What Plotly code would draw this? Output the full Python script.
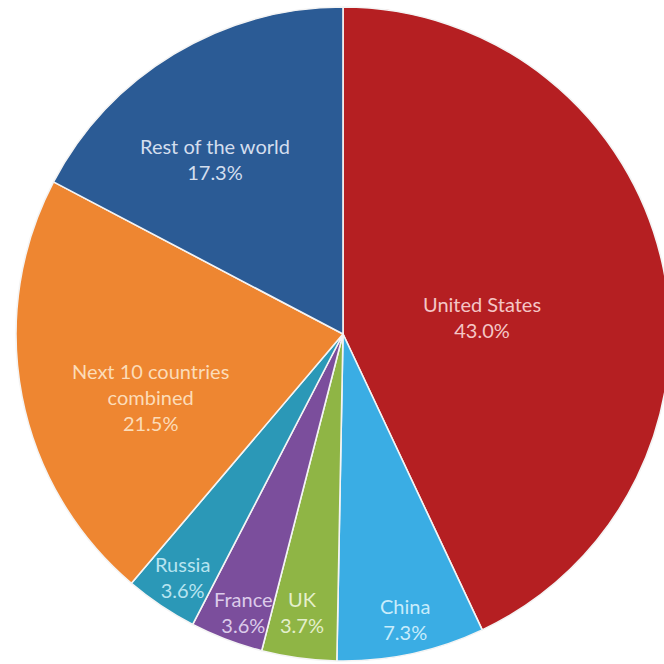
import plotly.graph_objects as go

# ---- data ----
countries = ["United States", "China", "UK", "France", "Russia",
             "Next 10 countries combined", "Rest of the world"]
shares = [43.0, 7.3, 3.7, 3.6, 3.6, 21.5, 17.3]
label_lines = [["United States"], ["China"], ["UK"], ["France"], ["Russia"],
               ["Next 10 countries", "combined"], ["Rest of the world"]]

# ---- style ----
W, H = 672, 664
slice_colors = ["#b51f22", "#3aade4", "#8fb545", "#7b4e9c", "#2b98b7",
                "#ee8631", "#2b5b95"]
text_colors = ["#f4c6c6", "#c8ecfb", "#e4efcc", "#dccbea", "#b8e4f0",
               "#fcdcb8", "#d3deee"]
# label centre positions in pixels (x, y of first line)
label_px = [(482, 303), (405, 605), (302, 598), (243, 598), (182, 563),
            (150, 370), (215, 145)]
FONT_SIZE = 20

fig = go.Figure(go.Pie(
    labels=countries,
    values=shares,
    sort=False,
    direction="clockwise",
    rotation=0,
    textinfo="none",
    hoverinfo="label+percent",
    marker=dict(colors=slice_colors, line=dict(color="#f4f4f4", width=1.6)),
    domain=dict(x=[16 / W, 670 / W], y=[3 / H, 657 / H]),
    showlegend=False,
))

for lines, share, (px, py), tc in zip(label_lines, shares, label_px, text_colors):
    txt = "<br>".join(lines + [f"{share:.1f}%"])
    fig.add_annotation(
        x=px / W, y=1 - py / H, xref="paper", yref="paper",
        text=txt, showarrow=False, xanchor="center", yanchor="top",
        yshift=13,
        font=dict(family="Lato", size=FONT_SIZE, color=tc),
        align="center",
    )

fig.update_layout(
    width=W, height=H,
    margin=dict(l=0, r=0, t=0, b=0),
    paper_bgcolor="white",
    plot_bgcolor="white",
)

fig.write_html(
    "out.html",
    config={"displayModeBar": False},
    post_script="document.body.style.margin='0';"
                "document.body.style.overflow='hidden';",
)
